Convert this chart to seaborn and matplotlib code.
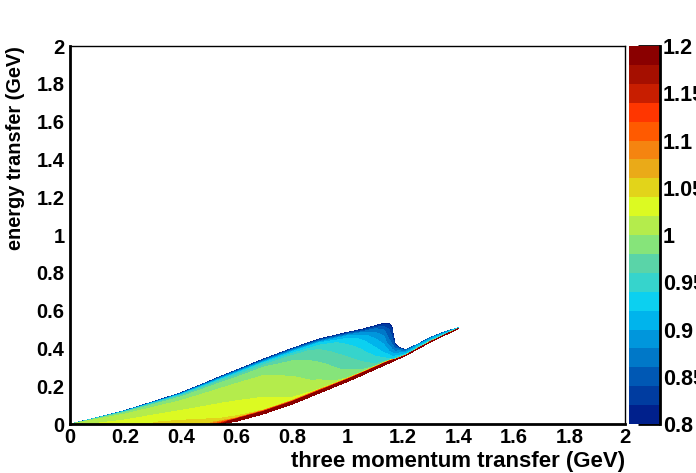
import numpy as np
import matplotlib
matplotlib.use("Agg")
import matplotlib.pyplot as plt
import seaborn as sns
from matplotlib.cm import ScalarMappable
from matplotlib.colors import BoundaryNorm, ListedColormap
from matplotlib.ticker import MultipleLocator

# three momentum transfer columns (GeV) and edges of the filled region
q3_cols = [0.0, 0.05, 0.1, 0.2, 0.3, 0.4, 0.5, 0.54, 0.6, 0.7, 0.8, 0.9,
           1.0, 1.05, 1.1, 1.13, 1.15, 1.16, 1.17, 1.185, 1.21, 1.25, 1.3, 1.35, 1.4]
q0_lower = [0.0, 0.0, 0.0, 0.0, 0.0, 0.0, 0.0, 0.0, 0.015, 0.055, 0.105, 0.165,
            0.225, 0.257, 0.29, 0.31, 0.323, 0.329, 0.336, 0.346, 0.362, 0.395,
            0.435, 0.47, 0.505]
q0_upper = [0.0, 0.017, 0.035, 0.072, 0.118, 0.165, 0.225, 0.25, 0.285, 0.345, 0.40, 0.45,
            0.485, 0.50, 0.52, 0.533, 0.53, 0.515, 0.43, 0.405, 0.393, 0.42,
            0.458, 0.487, 0.51]

# position across the band: 0 = lower edge, 1 = upper edge
band_frac = [0.0, 0.035, 0.07, 0.12, 0.3, 0.5, 0.7, 0.85, 0.93, 0.97, 1.0]

# ratio, one row per q3 column
ratio = [
    [1.00, 1.00, 1.00, 1.00, 1.00, 0.99, 0.97, 0.95, 0.92, 0.88, 0.82],
    [1.02, 1.02, 1.02, 1.015, 1.01, 1.01, 1.0, 0.97, 0.93, 0.88, 0.82],
    [1.03, 1.03, 1.03, 1.02, 1.015, 1.01, 1.005, 0.98, 0.94, 0.88, 0.82],
    [1.035, 1.035, 1.035, 1.03, 1.02, 1.01, 1.005, 0.985, 0.945, 0.88, 0.81],
    [1.04, 1.04, 1.04, 1.035, 1.025, 1.015, 1.005, 0.99, 0.95, 0.88, 0.81],
    [1.045, 1.045, 1.045, 1.04, 1.03, 1.015, 1.005, 0.99, 0.95, 0.88, 0.81],
    [1.06, 1.05, 1.05, 1.04, 1.03, 1.015, 1.005, 0.99, 0.95, 0.88, 0.81],
    [1.15, 1.10, 1.05, 1.04, 1.03, 1.015, 1.005, 0.99, 0.95, 0.88, 0.81],
    [1.25, 1.20, 1.05, 1.035, 1.025, 1.015, 1.005, 0.985, 0.945, 0.88, 0.81],
    [1.25, 1.20, 1.04, 1.03, 1.02, 1.01, 1.0, 0.98, 0.94, 0.87, 0.81],
    [1.25, 1.20, 1.03, 1.02, 1.01, 1.0, 0.99, 0.97, 0.93, 0.87, 0.81],
    [1.25, 1.20, 1.02, 1.01, 0.995, 0.985, 0.97, 0.955, 0.92, 0.86, 0.81],
    [1.25, 1.20, 1.0, 0.99, 0.975, 0.96, 0.945, 0.93, 0.90, 0.85, 0.81],
    [1.25, 1.20, 0.99, 0.98, 0.96, 0.945, 0.93, 0.91, 0.88, 0.84, 0.81],
    [1.25, 1.20, 0.98, 0.96, 0.94, 0.92, 0.90, 0.88, 0.86, 0.83, 0.81],
    [1.25, 1.20, 0.97, 0.95, 0.92, 0.90, 0.88, 0.86, 0.84, 0.82, 0.81],
    [1.25, 1.20, 0.96, 0.94, 0.90, 0.87, 0.85, 0.84, 0.83, 0.82, 0.81],
    [1.25, 1.20, 0.96, 0.93, 0.89, 0.86, 0.84, 0.83, 0.82, 0.81, 0.81],
    [1.25, 1.20, 0.97, 0.94, 0.91, 0.88, 0.86, 0.84, 0.82, 0.81, 0.81],
    [1.25, 1.20, 0.98, 0.95, 0.92, 0.90, 0.88, 0.86, 0.84, 0.82, 0.81],
    [1.25, 1.20, 0.98, 0.95, 0.92, 0.90, 0.88, 0.86, 0.84, 0.82, 0.81],
    [1.25, 1.20, 1.0, 0.97, 0.94, 0.92, 0.90, 0.88, 0.86, 0.84, 0.82],
    [1.25, 1.20, 1.0, 0.97, 0.94, 0.92, 0.90, 0.88, 0.86, 0.84, 0.82],
    [1.25, 1.20, 1.0, 0.97, 0.94, 0.92, 0.90, 0.88, 0.86, 0.84, 0.82],
    [1.22, 1.15, 1.0, 0.98, 0.96, 0.94, 0.92, 0.90, 0.88, 0.86, 0.84],
]

# 20 colour bands from 0.8 (bottom) to 1.2 (top)
band_colors = ["#00208c", "#003ca0", "#0058b4", "#0078c8", "#0096dc",
               "#00b4ec", "#0cd0f0", "#36d4cc", "#5ad4a8", "#86e47a",
               "#b4ec4c", "#dcfa22", "#e2d41a", "#eaaa18", "#f58410",
               "#ff5a00", "#ff3600", "#c81e00", "#a50f00", "#8a0000"]
levels = np.round(np.linspace(0.8, 1.2, 21), 3)

axis_ticks = [0, 0.2, 0.4, 0.6, 0.8, 1.0, 1.2, 1.4, 1.6, 1.8, 2.0]
axis_labels = ["0", "0.2", "0.4", "0.6", "0.8", "1", "1.2", "1.4", "1.6", "1.8", "2"]
cbar_ticks = [0.8, 0.85, 0.9, 0.95, 1.0, 1.05, 1.1, 1.15, 1.2]
cbar_labels = ["0.8", "0.85", "0.9", "0.95", "1", "1.05", "1.1", "1.15", "1.2"]

sns.set_style("white")
plt.rcParams['font.family'] = ['Liberation Sans', 'DejaVu Sans']
plt.rcParams['font.weight'] = 'bold'
plt.rcParams['text.color'] = 'black'
plt.rcParams['axes.labelcolor'] = 'black'
plt.rcParams['xtick.color'] = 'black'
plt.rcParams['ytick.color'] = 'black'

cmap = ListedColormap(sns.color_palette(band_colors))
cmap.set_over(band_colors[-1])
cmap.set_under(band_colors[0])

# curvilinear grid spanning the band between the two edges
q3 = np.array(q3_cols)
lo = np.array(q0_lower)
hi = np.array(q0_upper)
frac = np.array(band_frac)
X = np.repeat(q3[:, None], len(frac), axis=1)
Y = lo[:, None] + frac[None, :] * (hi - lo)[:, None]
Z = np.array(ratio)

fig = plt.figure(figsize=(6.96, 4.73), dpi=100)
ax = fig.add_axes([70 / 696, 1 - 424 / 473, 555 / 696, 378 / 473])
ax.contourf(X, Y, Z, levels=levels, cmap=cmap, vmin=0.8, vmax=1.2, extend='both')

ax.set_xlim(0, 2)
ax.set_ylim(0, 2)
ax.set_xticks(axis_ticks)
ax.set_xticklabels(axis_labels)
ax.set_yticks(axis_ticks)
ax.set_yticklabels(axis_labels)
ax.xaxis.set_minor_locator(MultipleLocator(0.04))
ax.yaxis.set_minor_locator(MultipleLocator(0.04))
ax.tick_params(axis='x', which='major', direction='in', length=11, width=2,
               labelsize=14.5, pad=3, top=False)
ax.tick_params(axis='x', which='minor', direction='in', length=5.5, width=2, top=False)
ax.tick_params(axis='y', which='major', direction='in', length=16, width=2,
               labelsize=14.5, pad=4, right=False)
ax.tick_params(axis='y', which='minor', direction='in', length=8, width=2, right=False)
for sp in ax.spines.values():
    sp.set_visible(True)
    sp.set_color('black')
    sp.set_linewidth(1.0)
ax.spines['left'].set_linewidth(2)
ax.spines['bottom'].set_linewidth(2)

ax.set_xlabel('three momentum transfer (GeV)', fontsize=16, fontweight='bold',
              loc='right', labelpad=3)
ax.set_ylabel('energy transfer (GeV)', fontsize=14.3, fontweight='bold',
              loc='top', labelpad=8)

# palette on the right
cax = fig.add_axes([629 / 696, 1 - 424 / 473, 31 / 696, 378 / 473])
sm = ScalarMappable(norm=BoundaryNorm(levels, len(band_colors)), cmap=cmap)
cb = fig.colorbar(sm, cax=cax, ticks=cbar_ticks)
cb.outline.set_visible(False)
cax.spines['right'].set_visible(True)
cax.spines['right'].set_linewidth(2)
cax.spines['right'].set_color('black')
cax.set_yticklabels(cbar_labels)
cax.tick_params(axis='y', direction='in', length=16, width=2, labelsize=15.5,
                pad=2, right=True, left=False)
cax.minorticks_off()

fig.savefig('out.png', dpi=100)
